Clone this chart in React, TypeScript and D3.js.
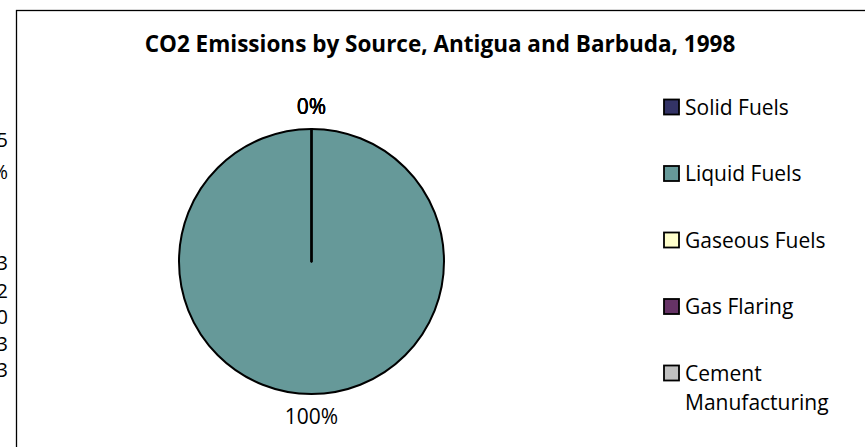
import React from "react";
import * as d3 from "d3";

const categories = ["Solid Fuels", "Liquid Fuels", "Gaseous Fuels", "Gas Flaring", "Cement Manufacturing"];
const legendLines = [["Solid Fuels"], ["Liquid Fuels"], ["Gaseous Fuels"], ["Gas Flaring"], ["Cement", "Manufacturing"]];
const shares = [0, 100, 0, 0, 0];
const colors = ["#333366", "#669999", "#FFFFCC", "#663366", "#C0C0C0"];
const title = "CO2 Emissions by Source, Antigua and Barbuda, 1998";
const sheetFragments = ["5", "%", "3", "2", "0", "3", "3"];
const sheetRows = [147, 179, 270, 298, 324, 351, 377];

const W = 865;
const H = 447;
const FONT = "'Open Sans', 'Noto Sans', sans-serif";

export default function App() {
  const cx = 311.5;
  const cy = 261.5;
  const r = 132.5;
  const labelR = 155;

  const pie = d3.pie<number>().sort(null).startAngle(0).endAngle(2 * Math.PI).value((d) => d);
  const arcs = pie(shares);
  const arc = d3.arc<d3.PieArcDatum<number>>().innerRadius(0).outerRadius(r);
  const total = d3.sum(shares);

  const legendY = d3.scalePoint<number>().domain(d3.range(categories.length)).range([107, 373]);

  return (
    <svg width={W} height={H} style={{ position: "absolute", left: 0, top: 0, background: "#fff" }} fontFamily={FONT}>
      {sheetFragments.map((t, i) => (
        <text key={i} x={8} y={sheetRows[i]} textAnchor="end" fontSize={20} fill="#000">
          {t}
        </text>
      ))}
      <rect x={16.5} y={10.5} width={1000} height={600} fill="#fff" stroke="#000" strokeWidth={1.3} />
      <text x={440} y={52} textAnchor="middle" fontSize={22.5} fontWeight="bold" fill="#000">
        {title}
      </text>
      <g transform={`translate(${cx},${cy})`}>
        {arcs.map((a, i) => (
          <path key={i} d={arc(a) || ""} fill={colors[i]} stroke="#000" strokeWidth={2} strokeLinejoin="round" />
        ))}
        {arcs.map((a, i) => {
          const mid = (a.startAngle + a.endAngle) / 2;
          const x = Math.sin(mid) * labelR;
          const y = -Math.cos(mid) * labelR;
          return (
            <text key={i} x={x} y={y} dy="0.36em" textAnchor="middle" fontSize={21} fill="#000">
              {`${Math.round((a.data / total) * 100)}%`}
            </text>
          );
        })}
      </g>
      {legendLines.map((lines, i) => {
        const y = legendY(i) as number;
        return (
          <g key={i}>
            <rect x={664} y={y - 7.5} width={15} height={15} fill={colors[i]} stroke="#000" strokeWidth={1.8} />
            {lines.map((ln, j) => (
              <text key={j} x={685} y={y + j * 29} dy="0.36em" fontSize={21} fill="#000">
                {ln}
              </text>
            ))}
          </g>
        );
      })}
    </svg>
  );
}
